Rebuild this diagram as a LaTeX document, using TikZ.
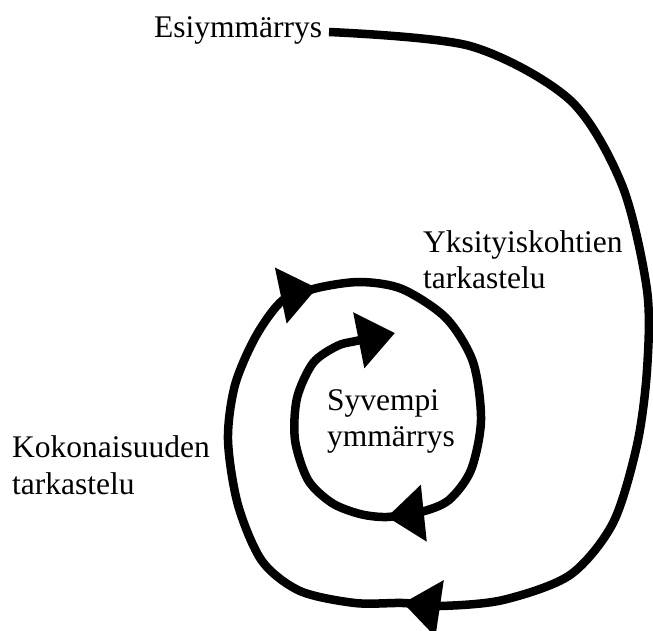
\documentclass[tikz,border=0pt]{standalone}
\usepackage{fontspec}
\setmainfont{Liberation Serif}
\usetikzlibrary{arrows.meta}
\begin{document}
\begin{tikzpicture}[x=1pt,y=-1pt,
  turn/.style={line width=8.5pt, -{Triangle[length=37pt,width=55pt]}},
  lbl/.style={anchor=base west, inner sep=0pt, font=\fontsize{31.5}{36}\selectfont}]
\useasboundingbox (0,0) rectangle (653,631);

% labels
\node[lbl] (esi)  at (154,37.5) {Esiymmärrys};
\node[lbl] (yks1) at (423,252) {Yksityiskohtien};
\node[lbl] (yks2) at (423,288) {tarkastelu};
\node[lbl] (syv1) at (327,410) {Syvempi};
\node[lbl] (syv2) at (327,446) {ymmärrys};
\node[lbl] (kok1) at (12,457) {Kokonaisuuden};
\node[lbl] (kok2) at (12,494) {tarkastelu};

% turning points of the spiral (arrow tips and the middle of each arrow base)
\coordinate (start) at (329,32);
\coordinate (baseA) at (440,606);
\coordinate (tipA) at (403,603);
\coordinate (baseB) at (283,300);
\coordinate (tipB) at (317,288);
\coordinate (baseC) at (421,512);
\coordinate (tipC) at (387,517);
\coordinate (baseD) at (356,341);
\coordinate (tipD) at (395,333);

% outer sweep from the preliminary understanding
\draw[turn] plot[smooth] coordinates {(start) (470,46) (570,100) (622,185)
  (647,290) (647,370) (637,445) (613,523) (570,575) (503,600) (baseA) (tipA)};
% whole
\draw[turn] plot[smooth] coordinates {(baseA) (tipA) (355,603) (300,591) (262,561)
  (238,505) (228,440) (235,385) (256,336) (baseB) (tipB)};
% details
\draw[turn] plot[smooth] coordinates {(baseB) (tipB) (360,282) (402,289) (446,318)
  (473,362) (481,420) (471,470) (449,500) (baseC) (tipC)};
% inner loop
\draw[turn] plot[smooth] coordinates {(baseC) (tipC) (360,514) (332,503) (308,480)
  (295,440) (297,398) (313,363) (337,346) (baseD) (tipD)};
\end{tikzpicture}
\end{document}
